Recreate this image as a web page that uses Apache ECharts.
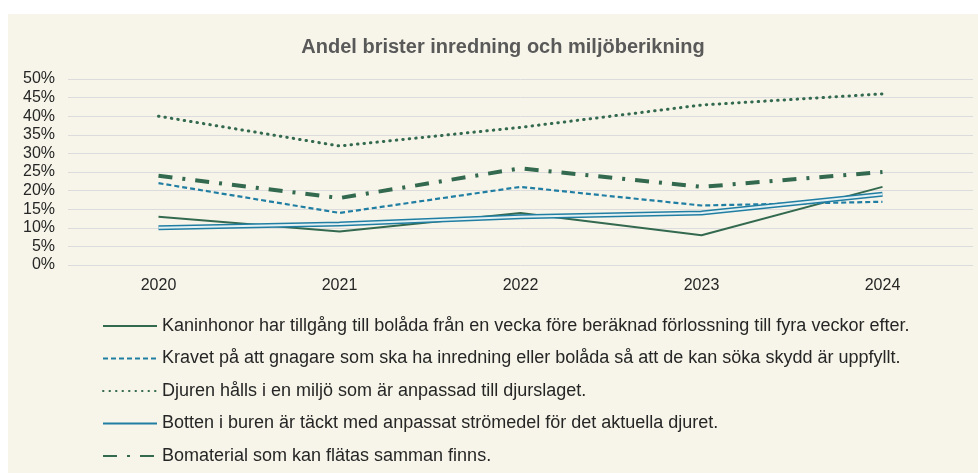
<!DOCTYPE html>
<html lang="sv">
<head>
    <meta charset="UTF-8">
    <title>Andel brister inredning och miljöberikning</title>
    <style>
        * { margin: 0; padding: 0; box-sizing: border-box; }
        body { width: 978px; height: 473px; background: #fff; position: relative; overflow: hidden; }
        /* ytan bakom diagrammet */
        #chart {
            position: absolute;
            left: 8px;
            top: 14px;
            width: 970px;
            height: 459px;
            background: #f7f5e9;
        }
    </style>
</head>
<body>
    <div id="chart"></div>

    <script src="https://cdn.jsdelivr.net/npm/echarts@6/dist/echarts.min.js"></script>
    <script>
        // data
        const years = ['2020', '2021', '2022', '2023', '2024'];
        const yTicks = [0, 5, 10, 15, 20, 25, 30, 35, 40, 45, 50];

        const kaninhonor = [13, 9, 14, 8, 21];
        const kravet = [22, 14, 21, 16, 17];
        const djuren = [40, 32, 37, 43, 46];
        const botten = [10, 11, 13, 14, 19];
        const bomaterial = [24, 18, 26, 21, 25];

        const names = [
            'Kaninhonor har tillgång till bolåda från en vecka före beräknad förlossning till fyra veckor efter.',
            'Kravet på att gnagare som ska ha inredning eller bolåda så att de kan söka skydd är uppfyllt.',
            'Djuren hålls i en miljö som är anpassad till djurslaget.',
            'Botten i buren är täckt med anpassat strömedel för det aktuella djuret.',
            'Bomaterial som kan flätas samman finns.'
        ];

        const green = '#33694f';
        const blue = '#217ea3';

        const chart = echarts.init(document.getElementById('chart'));
        chart.setOption({
            animation: false,
            textStyle: { fontFamily: 'Liberation Sans, Arial, sans-serif' },
            title: {
                text: 'Andel brister inredning och miljöberikning',
                left: 490,
                top: 18,
                textAlign: 'center',
                textStyle: { fontSize: 20, fontWeight: 'bold', color: '#595959' }
            },
            grid: { left: 60, top: 65, width: 905, height: 186, containLabel: false },
            legend: {
                orient: 'vertical',
                left: 89,
                top: 298,
                height: 175,
                itemWidth: 54,
                itemHeight: 14,
                itemGap: 14.5,
                data: names,
                itemStyle: { opacity: 0 },
                textStyle: { fontSize: 18, color: '#262626' }
            },
            xAxis: {
                type: 'category',
                data: years,
                boundaryGap: true,
                axisLine: { show: false },
                axisTick: { show: false },
                axisLabel: { fontSize: 16, color: '#262626', margin: 13 }
            },
            yAxis: {
                type: 'value',
                min: yTicks[0],
                max: yTicks[yTicks.length - 1],
                interval: 5,
                axisLabel: { fontSize: 16, color: '#262626', formatter: '{value}%', margin: 13 },
                splitLine: { lineStyle: { color: '#dcdcdc', width: 1 } }
            },
            series: [
                {
                    name: names[0], type: 'line', data: kaninhonor, symbol: 'none',
                    lineStyle: { color: green, width: 2, type: 'solid' },
                    itemStyle: { color: green }
                },
                {
                    name: names[1], type: 'line', data: kravet, symbol: 'none',
                    lineStyle: { color: blue, width: 2.2, type: [5, 3] },
                    itemStyle: { color: blue }
                },
                {
                    name: names[2], type: 'line', data: djuren, symbol: 'none',
                    lineStyle: { color: green, width: 3, type: [0.5, 6], cap: 'round' },
                    itemStyle: { color: green }
                },
                {
                    name: names[3], type: 'line', data: botten, symbol: 'none',
                    lineStyle: { color: blue, width: 5, type: 'solid' },
                    itemStyle: { color: blue }
                },
                {
                    // inre ljus linje för dubbellinjen
                    name: 'botten-inre', type: 'line', data: botten, symbol: 'none',
                    lineStyle: { color: '#e4f1f3', width: 2, type: 'solid' },
                    silent: true
                },
                {
                    name: names[4], type: 'line', data: bomaterial, symbol: 'none',
                    lineStyle: { color: green, width: 4, type: [14, 10, 3, 10] },
                    itemStyle: { color: green }
                }
            ]
        });
    </script>
</body>
</html>
